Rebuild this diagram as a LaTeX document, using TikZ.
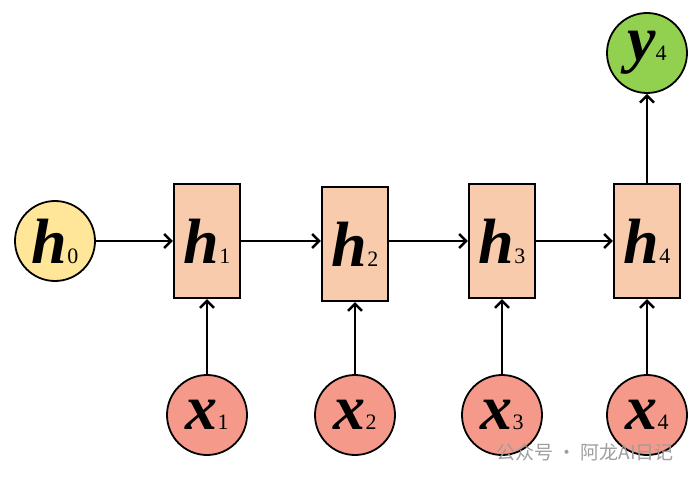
\documentclass[tikz,border=0pt]{standalone}
\usepackage{fontspec}
\setmainfont{Liberation Serif}
\newfontfamily\cjk{Noto Sans CJK SC}
\usetikzlibrary{arrows.meta}

\definecolor{hzero}{HTML}{FFE699}
\definecolor{hbox}{HTML}{F8CBAD}
\definecolor{xin}{HTML}{F59A8A}
\definecolor{yout}{HTML}{92D050}

\newcommand{\var}[2]{{\fontsize{64}{64}\selectfont\bfseries\itshape #1}{\fontsize{22}{22}\selectfont\mdseries\upshape #2}}

\tikzset{
	state/.style={draw, line width=2.4pt, fill=hbox, minimum width=66pt, minimum height=114pt, inner sep=0pt},
	ball/.style={circle, draw, line width=1.8pt, minimum size=80pt, inner sep=0pt},
	link/.style={line width=2.4pt, -{Straight Barb[length=7pt,width=14pt]}}
}

\begin{document}
\begin{tikzpicture}[x=1pt, y=-1pt]
	\useasboundingbox (0, 0) rectangle (696, 481);
	\node[ball, fill=hzero] (h0) at (55, 241) {\var{h}{0}};
	\node[state] (h1) at (207, 241) {\var{h}{1}};
	\node[state] (h2) at (355, 244) {\var{h}{2}};
	\node[state] (h3) at (502, 241) {\var{h}{3}};
	\node[state] (h4) at (647, 241) {\var{h}{4}};
	\node[ball, fill=xin] (x1) at (207, 415) {\var{x}{1}};
	\node[ball, fill=xin] (x2) at (355, 415) {\var{x}{2}};
	\node[ball, fill=xin] (x3) at (502, 415) {\var{x}{3}};
	\node[ball, fill=xin] (x4) at (647, 415) {\var{x}{4}};
	\node[ball, fill=yout] (y4) at (647, 53) {\var{y}{4}};
	% recurrence
	\draw[link] (h0) -- (h1);
	\draw[link] (h1.east |- h0) -- (h2.west |- h0);
	\draw[link] (h2.east |- h0) -- (h3.west |- h0);
	\draw[link] (h3.east |- h0) -- (h4.west |- h0);
	% inputs and output
	\draw[link] (x1) -- (h1);
	\draw[link] (x2) -- (h2);
	\draw[link] (x3) -- (h3);
	\draw[link] (x4) -- (h4);
	\draw[link] (h4) -- (y4);
	\node[text=black!38, font=\cjk\fontsize{19}{19}\selectfont] (mark) at (585, 452) {公众号 · 阿龙AI日记};
\end{tikzpicture}
\end{document}
